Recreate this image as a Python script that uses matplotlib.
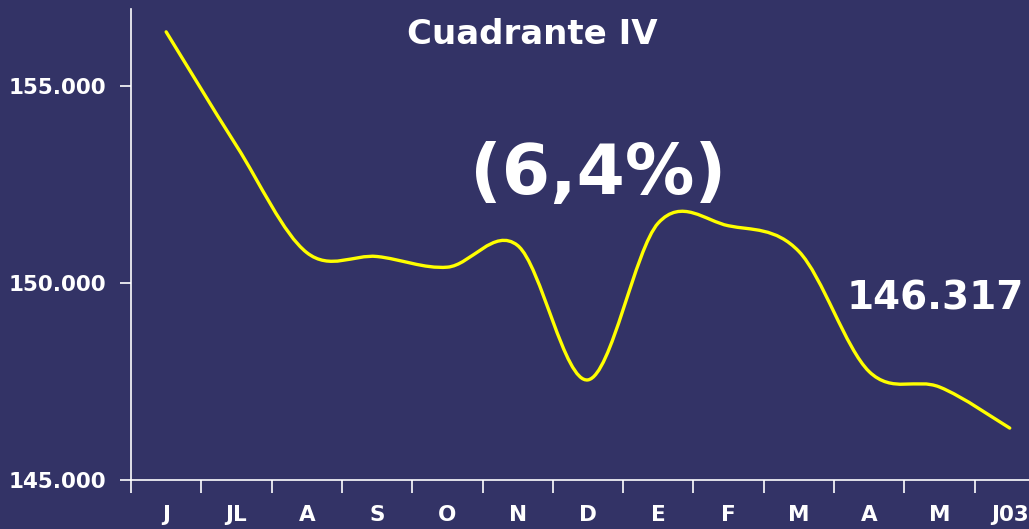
import matplotlib.pyplot as plt
import numpy as np
from matplotlib.path import Path
from matplotlib.patches import PathPatch

# Datos mensuales (jun 2002 - jun 2003)
meses = ['J', 'JL', 'A', 'S', 'O', 'N', 'D', 'E', 'F', 'M', 'A', 'M', 'J03']
valores = [156370, 153480, 150770, 150670, 150400, 150950, 147540,
           151520, 151450, 150800, 147750, 147360, 146317]
y_ticks = [145000, 150000, 155000]
y_labels = ['145.000', '150.000', '155.000']

fondo = '#333366'
amarillo = '#FFFF00'


def smooth_path(x, y):
    """Curva suavizada tipo Excel (Catmull-Rom -> Bezier cubico)."""
    pts = np.column_stack([x, y]).astype(float)
    n = len(pts)
    verts = [pts[0]]
    codes = [Path.MOVETO]
    for i in range(n - 1):
        p0 = pts[max(i - 1, 0)]
        p1 = pts[i]
        p2 = pts[i + 1]
        p3 = pts[min(i + 2, n - 1)]
        c1 = p1 + (p2 - p0) / 6.0
        c2 = p2 - (p3 - p1) / 6.0
        verts += [c1, c2, p2]
        codes += [Path.CURVE4] * 3
    return Path(verts, codes)


fig = plt.figure(figsize=(10.29, 5.29), dpi=100, facecolor=fondo)
ax = fig.add_axes([131 / 1029, 1 - 480 / 529, 1 - 131 / 1029, 471 / 529])
ax.set_facecolor(fondo)

x = np.arange(len(meses))
linea = PathPatch(smooth_path(x, valores), facecolor='none', edgecolor=amarillo,
                  lw=2.4, capstyle='round', joinstyle='round')
ax.add_patch(linea)

# ejes
for s in ['top', 'right']:
    ax.spines[s].set_visible(False)
for s in ['left', 'bottom']:
    ax.spines[s].set_color('white')
    ax.spines[s].set_linewidth(1.2)

ax.set_yticks(y_ticks)
ax.set_yticklabels(y_labels)
ax.set_xticks(np.arange(len(meses) + 1) - 0.5)
ax.set_xticklabels([])
ax.set_xticks(x, minor=True)
ax.set_xticklabels(meses, minor=True)
ax.tick_params(axis='x', which='major', length=9, width=1.2, color='white')
ax.tick_params(axis='x', which='minor', length=0, pad=18,
               labelsize=15.5, labelcolor='white')
ax.tick_params(axis='y', length=8, width=1.2, color='white', pad=10,
               labelsize=15.5, labelcolor='white')
for lab in ax.get_xticklabels(minor=True) + ax.get_yticklabels():
    lab.set_fontweight('bold')

# limites despues de los ticks (set_xticks amplia la vista)
ax.set_xlim(-0.5, -0.5 + (1029 - 131) / 70.3)
ax.set_ylim(145000, 156950)

# textos
fig.text(532 / 1029, 1 - 35 / 529, 'Cuadrante IV', color='white', fontsize=24.5,
         fontweight='bold', ha='center', va='center')
fig.text(598 / 1029, 1 - 174 / 529, '(6,4%)', color='white', fontsize=50,
         fontweight='bold', ha='center', va='center')
fig.text(935 / 1029, 1 - 298 / 529, '146.317', color='white', fontsize=28,
         fontweight='bold', ha='center', va='center')

fig.savefig('out.png', dpi=100, facecolor=fondo)
